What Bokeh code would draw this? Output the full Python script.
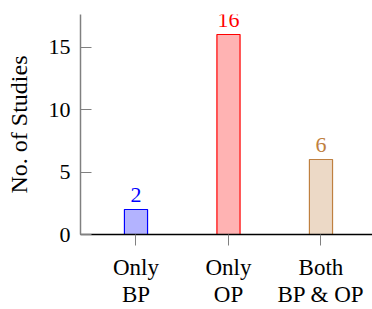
from bokeh.plotting import figure
from bokeh.models import ColumnDataSource, FixedTicker, LabelSet, LinearAxis, Range1d
from bokeh.core.properties import field
from bokeh.embed import file_html
from bokeh.resources import INLINE

categories = ["Only\nBP", "Only\nOP", "Both\nBP & OP"]
values = [2, 16, 6]
positions = [0, 1, 2]
fill_colors = ["#B3B3FF", "#FFB3B3", "#ECD9C6"]
line_colors = ["#0000FF", "#FF0000", "#BF8040"]
y_ticks = [0, 5, 10, 15]
y_title = "No. of Studies"

FONT = "Liberation Serif"

src = ColumnDataSource(dict(x=positions, top=values, fc=fill_colors, lc=line_colors,
                            label=[str(v) for v in values]))

p = figure(frame_width=292, frame_height=220, output_backend="svg", toolbar_location=None,
           x_range=Range1d(-0.6, 2.557), y_range=Range1d(0, 17.6),
           min_border_left=80, min_border_right=0, min_border_top=14, min_border_bottom=75)
p.outline_line_color = None
p.xgrid.grid_line_color = None
p.ygrid.grid_line_color = None

p.vbar(x="x", top="top", width=0.25, bottom=0, source=src,
       fill_color="fc", line_color="lc", line_width=1.2)

labels = LabelSet(x="x", y="top", text="label", source=src, y_offset=8,
                  text_align="center", text_baseline="bottom",
                  text_color=field("lc"), text_font=FONT, text_font_size="22px")
p.add_layout(labels)

ya = p.yaxis[0]
ya.ticker = FixedTicker(ticks=y_ticks)
ya.axis_line_color = "#808080"
ya.axis_line_width = 1.5
ya.major_tick_line_color = "#808080"
ya.major_tick_in = 11
ya.major_tick_out = 0
ya.minor_tick_line_color = None
ya.major_label_text_font = FONT
ya.major_label_text_font_size = "22px"
ya.major_label_text_color = "black"
ya.major_label_standoff = 10
ya.axis_label = y_title
ya.axis_label_text_font = FONT
ya.axis_label_text_font_style = "normal"
ya.axis_label_text_font_size = "24px"
ya.axis_label_text_color = "black"
ya.axis_label_standoff = 14

line1 = [c.split("\n")[0] for c in categories]
line2 = [c.split("\n")[1] for c in categories]

xa = p.xaxis[0]
xa.ticker = FixedTicker(ticks=positions)
xa.major_label_overrides = {pos: t for pos, t in zip(positions, line1)}
xa.axis_line_color = "black"
xa.axis_line_width = 1.5
xa.major_tick_line_color = "#808080"
xa.major_tick_in = 0
xa.major_tick_out = 11
xa.minor_tick_line_color = None
xa.major_label_text_font = FONT
xa.major_label_text_font_size = "23px"
xa.major_label_text_color = "black"
xa.major_label_standoff = 9

xa2 = LinearAxis(ticker=FixedTicker(ticks=positions),
                 major_label_overrides={pos: t for pos, t in zip(positions, line2)})
xa2.axis_line_color = None
xa2.major_tick_line_color = None
xa2.major_tick_in = 0
xa2.major_tick_out = 0
xa2.minor_tick_line_color = None
xa2.major_label_text_font = FONT
xa2.major_label_text_font_size = "23px"
xa2.major_label_text_color = "black"
xa2.major_label_standoff = -1
p.add_layout(xa2, "below")

open("out.html", "w").write(file_html(p, INLINE))
